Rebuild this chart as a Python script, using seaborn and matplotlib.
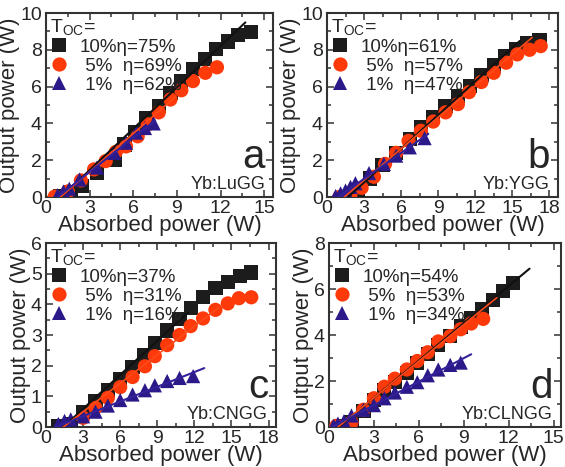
import numpy as np
import pandas as pd
import matplotlib
matplotlib.use("Agg")
import matplotlib.pyplot as plt
import seaborn as sns
from matplotlib.ticker import MultipleLocator

sns.set_theme(style="ticks")
plt.rcParams['font.family'] = ['Liberation Sans', 'DejaVu Sans']
plt.rcParams['mathtext.fontset'] = 'custom'
plt.rcParams['mathtext.rm'] = 'Liberation Sans'
plt.rcParams['mathtext.it'] = 'Liberation Sans'

# ---------------- data ----------------
toc_levels = ["10%", "5%", "1%"]

# panel a: Yb:LuGG
a_eta = [75, 69, 62]
a_x10 = [0.95, 1.7, 2.5, 3.5, 4.7, 5.4, 6.1, 6.9, 7.75, 8.55, 9.3, 10.1, 10.95, 11.7, 12.5, 13.2, 14.1]
a_y10 = [0.05, 0.25, 0.6, 1.3, 2.0, 2.85, 3.55, 4.3, 4.95, 5.65, 6.3, 6.95, 7.5, 8.05, 8.45, 8.8, 8.95]
a_x5 = [0.6, 1.5, 2.4, 3.3, 4.1, 4.8, 5.5, 6.3, 7.0, 7.75, 8.55, 9.3, 10.1, 10.95, 11.75]
a_y5 = [0.02, 0.3, 0.9, 1.5, 1.95, 2.45, 2.75, 3.3, 3.95, 4.6, 5.3, 5.8, 6.3, 6.75, 7.05]
a_x1 = [0.8, 1.2, 1.6, 2.3, 3.5, 4.7, 5.5, 6.2, 6.8, 7.4]
a_y1 = [0.1, 0.3, 0.45, 0.95, 1.6, 2.4, 2.95, 3.5, 3.75, 4.0]
a_fit_start = [1.05, 1.0, 0.8]
a_fit_end = [13.7, 8.9, 7.5]

# panel b: Yb:YGG
b_eta = [61, 57, 47]
b_x10 = [1.5, 2.5, 3.5, 4.5, 5.6, 6.7, 7.6, 8.6, 9.6, 10.6, 11.6, 12.5, 13.5, 14.4, 15.3, 16.2, 17.2]
b_y10 = [0.0, 0.35, 1.0, 1.75, 2.4, 3.15, 3.8, 4.35, 4.95, 5.5, 6.05, 6.65, 7.15, 7.65, 8.05, 8.35, 8.5]
b_x5 = [1.0, 1.9, 2.8, 3.8, 4.7, 5.6, 6.6, 7.6, 8.6, 9.6, 10.6, 11.5, 12.5, 13.5, 14.5, 15.4, 16.4, 17.3]
b_y5 = [0.0, 0.15, 0.5, 1.1, 1.8, 2.4, 3.05, 3.6, 4.1, 4.6, 5.05, 5.7, 6.25, 6.75, 7.3, 7.75, 8.0, 8.2]
b_x1 = [0.7, 1.1, 1.5, 1.9, 2.3, 3.4, 4.6, 5.6, 6.7, 7.9]
b_y1 = [0.05, 0.2, 0.35, 0.55, 0.75, 1.3, 1.8, 2.25, 2.7, 3.2]
b_fit_start = [1.7, 1.4, 0.9]
b_fit_end = [15.6, 16.6, 8.2]

# panel c: Yb:CNGG
c_eta = [37, 31, 16]
c_x10 = [1.0, 2.0, 3.0, 4.0, 5.0, 6.0, 7.0, 7.9, 8.8, 9.8, 10.8, 11.7, 12.7, 13.7, 14.7, 15.7, 16.6]
c_y10 = [0.03, 0.1, 0.5, 0.85, 1.2, 1.57, 1.96, 2.35, 2.75, 3.15, 3.52, 3.87, 4.23, 4.53, 4.74, 4.93, 5.04]
c_x5 = [3.0, 4.0, 5.0, 6.0, 7.0, 8.0, 8.8, 9.8, 10.8, 11.7, 12.7, 13.7, 14.7, 15.6, 16.6]
c_y5 = [0.3, 0.62, 0.95, 1.3, 1.63, 1.98, 2.31, 2.67, 3.0, 3.29, 3.54, 3.82, 4.03, 4.2, 4.23]
c_x1 = [1.0, 1.5, 2.0, 3.0, 4.0, 5.0, 6.0, 7.0, 8.0, 8.8, 9.8, 10.8, 11.9]
c_y1 = [0.1, 0.2, 0.25, 0.35, 0.5, 0.7, 0.88, 1.06, 1.2, 1.36, 1.5, 1.6, 1.66]
c_fit_start = [1.4, 1.4, 0.8]
c_fit_end = [11.5, 14.0, 12.8]

# panel d: Yb:CLNGG
d_eta = [54, 53, 34]
d_x10 = [0.8, 1.5, 2.3, 3.0, 3.7, 4.4, 5.2, 5.9, 6.6, 7.3, 8.1, 8.8, 9.5, 10.2, 10.95, 11.6, 12.3]
d_y10 = [0.05, 0.2, 0.7, 1.16, 1.6, 1.96, 2.35, 2.78, 3.16, 3.57, 3.97, 4.37, 4.73, 5.12, 5.53, 5.9, 6.26]
d_x5 = [0.5, 1.5, 2.3, 3.0, 3.7, 4.4, 5.2, 5.9, 6.6, 7.3, 8.1, 8.8, 9.5, 10.3]
d_y5 = [0.05, 0.2, 0.75, 1.25, 1.75, 2.1, 2.5, 2.87, 3.25, 3.72, 3.95, 4.25, 4.5, 4.7]
d_x1 = [0.3, 0.6, 1.0, 1.5, 2.3, 3.0, 3.7, 4.4, 5.2, 5.9, 6.6, 7.3, 8.1, 8.8]
d_y1 = [0.05, 0.15, 0.25, 0.5, 0.75, 0.95, 1.25, 1.5, 1.75, 1.95, 2.25, 2.5, 2.7, 2.8]
d_fit_start = [0.65, 0.6, 0.2]
d_fit_end = [13.4, 11.2, 9.5]

panel_letters = ["a", "b", "c", "d"]
crystals = ["Yb:LuGG", "Yb:YGG", "Yb:CNGG", "Yb:CLNGG"]
x_max = [15.6, 18.7, 18.6, 15.5]
y_max = [10, 10, 6, 8]
y_step = [2, 2, 1, 2]

# ---------------- style ----------------
colors = ["#1c1c1c", "#ff3a0a", "#2b1989"]
line_colors = ["#111111", "#ff4a1a", "#34229a"]
markers = ["s", "o", "^"]
text_col = "#262626"

panels = [
    (a_eta, [(a_x10, a_y10), (a_x5, a_y5), (a_x1, a_y1)], a_fit_start, a_fit_end),
    (b_eta, [(b_x10, b_y10), (b_x5, b_y5), (b_x1, b_y1)], b_fit_start, b_fit_end),
    (c_eta, [(c_x10, c_y10), (c_x5, c_y5), (c_x1, c_y1)], c_fit_start, c_fit_end),
    (d_eta, [(d_x10, d_y10), (d_x5, d_y5), (d_x1, d_y1)], d_fit_start, d_fit_end),
]

W, H = 565, 467
fig = plt.figure(figsize=(W / 100, H / 100), dpi=100)
boxes = [(46, 13, 273, 197), (327, 13, 558, 197), (46, 243, 276, 427), (329, 243, 561, 427)]

for i, (eta, series, fs, fe) in enumerate(panels):
    l, t, r, b = boxes[i]
    ax = fig.add_axes([l / W, 1 - b / H, (r - l) / W, (b - t) / H])
    labels = []
    rows = []
    for k, (xs, ys) in enumerate(series):
        if k == 0:
            lab = f"{toc_levels[k]}\u03b7={eta[k]}%"
        else:
            lab = f" {toc_levels[k]}  \u03b7={eta[k]}%"
        labels.append(lab)
        for xv, yv in zip(xs, ys):
            rows.append({"x": xv, "y": yv, "series": lab})
    df = pd.DataFrame(rows)
    sns.scatterplot(data=df, x="x", y="y", hue="series", style="series",
                    hue_order=labels, style_order=labels,
                    palette=dict(zip(labels, colors)),
                    markers=dict(zip(labels, markers)),
                    s=105, edgecolor="none", linewidth=0, ax=ax, zorder=3,
                    legend=True)
    # fit lines
    for k in range(3):
        xl = np.array([fs[k], fe[k]])
        yl = eta[k] / 100.0 * (xl - fs[k])
        sns.lineplot(x=xl, y=yl, color=line_colors[k], lw=1.5 if k != 1 else 1.2,
                     ax=ax, zorder=4, legend=False)
    ax.set_xlim(0, x_max[i])
    ax.set_ylim(0, y_max[i])
    ax.xaxis.set_major_locator(MultipleLocator(3))
    ax.xaxis.set_minor_locator(MultipleLocator(1.5))
    ax.yaxis.set_major_locator(MultipleLocator(y_step[i]))
    ax.yaxis.set_minor_locator(MultipleLocator(y_step[i] / 2))
    ax.tick_params(which="both", direction="in", top=True, right=True,
                   color="#333333", width=1.1, labelsize=14, labelcolor=text_col, pad=2)
    ax.tick_params(axis="y", which="both", pad=3)
    ax.tick_params(which="major", length=5)
    ax.tick_params(which="minor", length=3)
    for sp in ax.spines.values():
        sp.set_linewidth(1.5)
        sp.set_color("#333333")
    ax.set_xlabel("Absorbed power (W)", fontsize=16, color=text_col, labelpad=-1)
    ax.set_ylabel("Output power (W)", fontsize=16, color=text_col, labelpad=0)
    leg = ax.legend(title=r"T$_{\rm OC}$=", loc="upper left", frameon=False,
                    fontsize=13.5, title_fontsize=14, handletextpad=0.6,
                    labelspacing=0.1, borderaxespad=0.1, borderpad=0.1,
                    handlelength=1.0, markerscale=1.0)
    leg.set_zorder(10)
    leg._legend_box.align = "left"
    for txt in leg.get_texts():
        txt.set_color(text_col)
    leg.get_title().set_color(text_col)
    ax.text(0.965, 0.155, panel_letters[i], transform=ax.transAxes, ha="right",
            va="baseline", fontsize=29, color=text_col)
    ax.text(0.965, 0.045, crystals[i], transform=ax.transAxes, ha="right",
            va="baseline", fontsize=13, color=text_col)

fig.savefig("out.png", dpi=100, facecolor="white")
